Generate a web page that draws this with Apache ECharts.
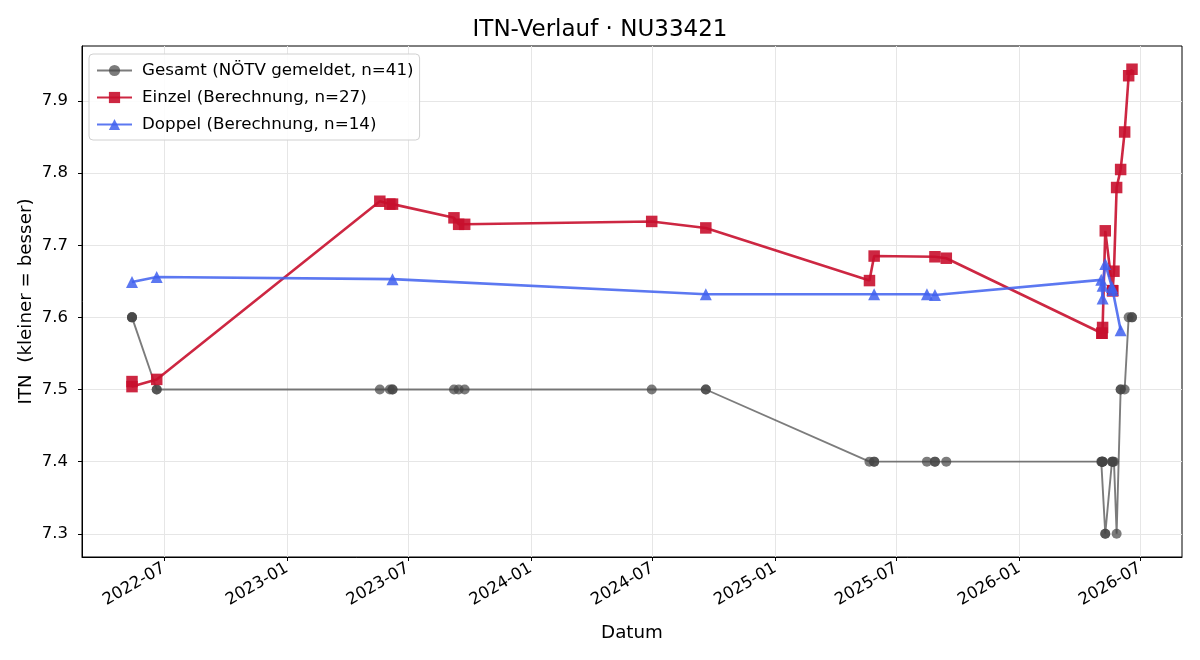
<!DOCTYPE html>
<html>
<head>
<meta charset="utf-8">
<script src="https://cdn.jsdelivr.net/npm/echarts@6/dist/echarts.min.js"></script>
<style>html,body{margin:0;padding:0;background:#fff}#c{width:1200px;height:660px}</style>
</head>
<body>
<div id="c"></div>
<script>
const gesamtDates = [
 '2022-05-14','2022-05-14','2022-05-14','2022-06-20','2022-06-20',
 '2023-05-20','2023-06-04','2023-06-08','2023-06-08',
 '2023-09-08','2023-09-15','2023-09-24',
 '2024-06-30','2024-09-19','2024-09-19',
 '2025-05-22','2025-05-29','2025-05-29',
 '2025-08-16','2025-08-28','2025-08-28','2025-09-14',
 '2026-05-04','2026-05-05','2026-05-05','2026-05-06','2026-05-06','2026-05-06',
 '2026-05-10','2026-05-10',
 '2026-05-20','2026-05-21','2026-05-21','2026-05-23',
 '2026-05-27','2026-06-02','2026-06-02','2026-06-08',
 '2026-06-14','2026-06-19','2026-06-19'
];
const gesamtValues = [
 7.6,7.6,7.6,7.5,7.5,
 7.5,7.5,7.5,7.5,
 7.5,7.5,7.5,
 7.5,7.5,7.5,
 7.4,7.4,7.4,
 7.4,7.4,7.4,7.4,
 7.4,7.4,7.4,7.4,7.4,7.4,
 7.3,7.3,
 7.4,7.4,7.4,7.4,
 7.3,7.5,7.5,7.5,
 7.6,7.6,7.6
];
const einzelDates = [
 '2022-05-14','2022-05-14','2022-06-20',
 '2023-05-20','2023-06-04','2023-06-08',
 '2023-09-08','2023-09-15','2023-09-24',
 '2024-06-30','2024-09-19',
 '2025-05-22','2025-05-29','2025-08-28','2025-09-14',
 '2026-05-05','2026-05-05','2026-05-06','2026-05-10',
 '2026-05-21','2026-05-21','2026-05-23','2026-05-27',
 '2026-06-02','2026-06-08','2026-06-14','2026-06-19'
];
const einzelValues = [
 7.511,7.504,7.514,
 7.761,7.757,7.757,
 7.738,7.729,7.729,
 7.733,7.724,
 7.651,7.685,7.684,7.682,
 7.578,7.578,7.586,7.720,
 7.637,7.637,7.664,7.780,
 7.805,7.857,7.935,7.944
];
const doppelDates = [
 '2022-05-14','2022-06-20','2023-06-08',
 '2024-09-19','2025-05-29','2025-08-16','2025-08-28',
 '2026-05-04','2026-05-06','2026-05-06','2026-05-10',
 '2026-05-20','2026-05-21','2026-06-02'
];
const doppelValues = [
 7.649,7.656,7.653,
 7.632,7.632,7.632,7.631,
 7.652,7.626,7.644,7.674,
 7.642,7.638,7.582
];
const xTickLabels = ['2022-07','2023-01','2023-07','2024-01','2024-07','2025-01','2025-07','2026-01','2026-07'];
const yTickValues = [7.3,7.4,7.5,7.6,7.7,7.8,7.9];

const ts = s => Date.UTC(+s.slice(0,4), +s.slice(5,7)-1, +s.slice(8,10));
const pairs = (d, v) => d.map((s, i) => [ts(s), v[i]]);
const allX = [...gesamtDates, ...einzelDates, ...doppelDates].map(ts);
const allY = [...gesamtValues, ...einzelValues, ...doppelValues];
const xMinD = Math.min(...allX), xMaxD = Math.max(...allX);
const yMinD = Math.min(...allY), yMaxD = Math.max(...allY);
const xm = (xMaxD - xMinD) * 0.05, ym = (yMaxD - yMinD) * 0.05;
const xTicks = xTickLabels.map(s => ts(s + '-01'));
const pad = n => (n < 10 ? '0' : '') + n;
const FONT = 'DejaVu Sans';

const chart = echarts.init(document.getElementById('c'), null, {renderer: 'canvas'});
chart.setOption({
  animation: false,
  backgroundColor: '#ffffff',
  textStyle: {fontFamily: FONT},
  title: {
    text: 'ITN-Verlauf · NU33421', left: 'center', top: 14,
    textStyle: {fontFamily: FONT, fontSize: 23, fontWeight: 'normal', color: '#000'}
  },
  grid: {left: 82, top: 46, right: 18, bottom: 103, show: true, borderColor: '#000', borderWidth: 1, backgroundColor: 'transparent'},
  legend: {
    orient: 'vertical', left: 89, top: 54,
    padding: [8, 6, 7, 7], itemGap: 10, itemWidth: 35, itemHeight: 14,
    backgroundColor: 'rgba(255,255,255,0.85)', borderColor: '#d0d0d0', borderWidth: 1, borderRadius: 4,
    textStyle: {fontFamily: FONT, fontSize: 16.7, color: '#000', padding: [0, 0, 0, 5]},
    data: ['Gesamt (NÖTV gemeldet, n=41)', 'Einzel (Berechnung, n=27)', 'Doppel (Berechnung, n=14)']
  },
  xAxis: {
    type: 'value', min: xMinD - xm, max: xMaxD + xm,
    name: 'Datum', nameLocation: 'middle', nameGap: 67,
    nameTextStyle: {fontFamily: FONT, fontSize: 18.3, color: '#000'},
    axisLine: {show: true, onZero: false, lineStyle: {color: '#000'}},
    axisTick: {show: true, length: 4, lineStyle: {color: '#000'}, customValues: xTicks},
    axisLabel: {
      customValues: xTicks, rotate: 30, fontSize: 16.5, color: '#000', margin: 10, fontFamily: FONT,
      formatter: v => { const d = new Date(v); return d.getUTCFullYear() + '-' + pad(d.getUTCMonth() + 1); }
    },
    splitLine: {show: true, lineStyle: {color: '#e6e6e6', width: 1}}
  },
  yAxis: {
    type: 'value', min: yMinD - ym, max: yMaxD + ym,
    name: 'ITN  (kleiner = besser)', nameLocation: 'middle', nameGap: 47, nameMoveOverlap: false,
    nameTextStyle: {fontFamily: FONT, fontSize: 18.3, color: '#000'},
    axisLine: {show: true, lineStyle: {color: '#000'}},
    axisTick: {show: true, length: 4, lineStyle: {color: '#000'}, customValues: yTickValues},
    axisLabel: {customValues: yTickValues, fontSize: 16.5, color: '#000', margin: 14, fontFamily: FONT, formatter: v => v.toFixed(1)},
    splitLine: {show: true, lineStyle: {color: '#e6e6e6', width: 1}}
  },
  series: [
    {
      name: 'Gesamt (NÖTV gemeldet, n=41)', type: 'line', data: pairs(gesamtDates, gesamtValues),
      symbol: 'circle', symbolSize: 10, showAllSymbol: true,
      lineStyle: {color: '#444444', width: 1.9, opacity: 0.7},
      itemStyle: {color: '#444444', opacity: 0.7}, z: 2
    },
    {
      name: 'Einzel (Berechnung, n=27)', type: 'line', data: pairs(einzelDates, einzelValues),
      symbol: 'rect', symbolSize: 11.5, showAllSymbol: true,
      lineStyle: {color: '#c8102e', width: 2.6, opacity: 0.9},
      itemStyle: {color: '#c8102e', opacity: 0.9}, z: 3
    },
    {
      name: 'Doppel (Berechnung, n=14)', type: 'line', data: pairs(doppelDates, doppelValues),
      symbol: 'triangle', symbolSize: 12, showAllSymbol: true,
      lineStyle: {color: '#4060ee', width: 2.6, opacity: 0.85},
      itemStyle: {color: '#4060ee', opacity: 0.85}, z: 4
    }
  ]
});
</script>
</body>
</html>
